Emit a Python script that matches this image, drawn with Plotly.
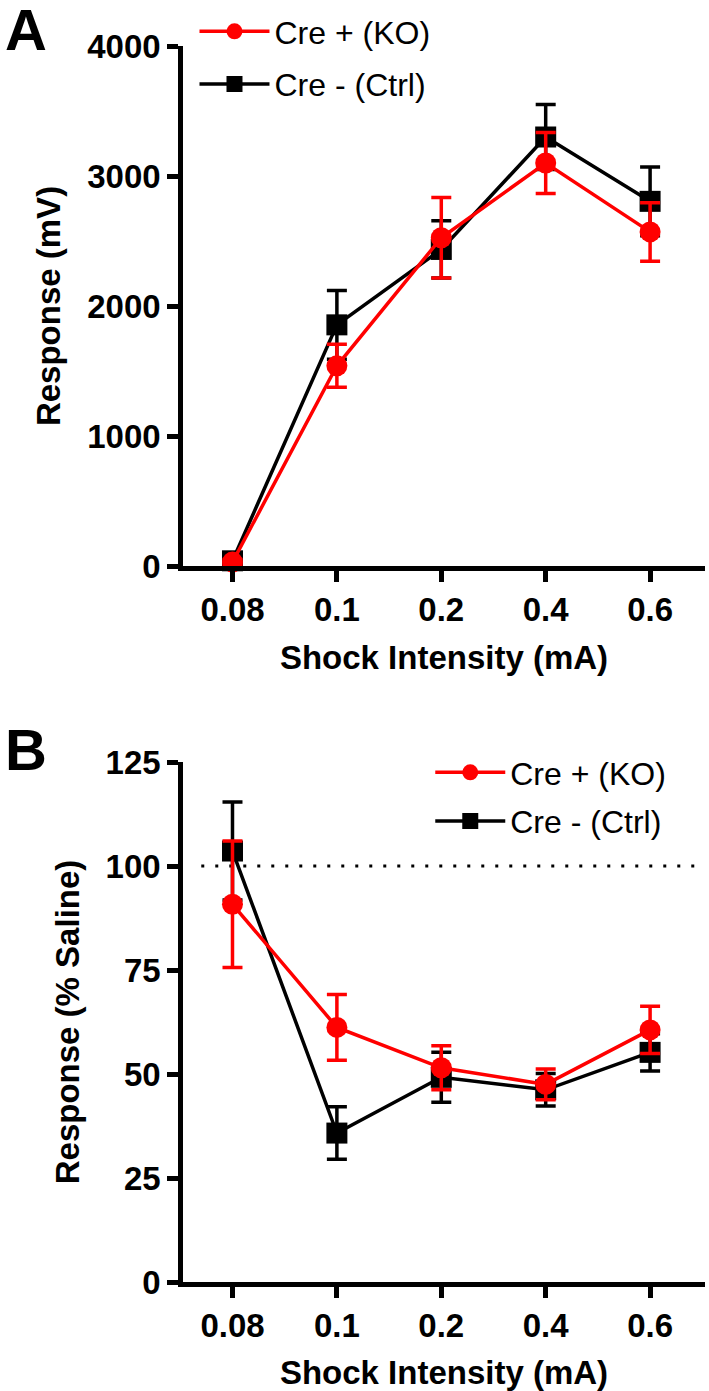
import plotly.graph_objects as go

# ---------------- data ----------------
categories = ["0.08", "0.1", "0.2", "0.4", "0.6"]

# Panel A: Response (mV)
ko_mv_mean = [30, 1540, 2525, 3100, 2570]
ko_mv_sem = [20, 165, 310, 235, 225]
ctrl_mv_mean = [40, 1855, 2435, 3300, 2805]
ctrl_mv_sem = [20, 265, 220, 250, 265]

# Panel B: Response (% Saline)
ko_pct_mean = [90.8, 61.2, 51.5, 47.5, 60.6]
ko_pct_sem = [15.2, 7.9, 5.3, 3.7, 5.7]
ctrl_pct_mean = [103.6, 35.8, 49.2, 46.2, 55.2]
ctrl_pct_sem = [11.8, 6.3, 6.0, 3.9, 4.5]

ko_name = "Cre + (KO)"
ctrl_name = "Cre - (Ctrl)"
ya_ticks = [0, 1000, 2000, 3000, 4000]
yb_ticks = [0, 25, 50, 75, 100, 125]
saline_ref = 100

# ---------------- layout constants ----------------
W, H = 709, 1391
L, R = 182.5, 4
PW = W - L - R
FONT = "Liberation Sans, Arial, Helvetica, sans-serif"
RED = "#FF0000"
BLACK = "#000000"


def px_x(px):
    return (px - L) / PW


def px_y(py):
    return 1 - py / H


fig = go.Figure()


def add_series(xa, ya, mean, sem, name, color, symbol, legend, rank):
    fig.add_trace(go.Scatter(
        x=categories, y=mean, name=name, xaxis=xa, yaxis=ya,
        mode="lines+markers",
        line=dict(color=color, width=3.5),
        marker=dict(color=color, size=21, symbol=symbol),
        error_y=dict(type="data", array=sem, color=color, thickness=3.5, width=10),
        cliponaxis=False, legend=legend, legendrank=rank, legendgroup=name + legend,
    ))


# black first so red draws on top
add_series("x", "y", ctrl_mv_mean, ctrl_mv_sem, ctrl_name, BLACK, "square", "legend", 2)
add_series("x", "y", ko_mv_mean, ko_mv_sem, ko_name, RED, "circle", "legend", 1)
add_series("x2", "y2", ctrl_pct_mean, ctrl_pct_sem, ctrl_name, BLACK, "square", "legend2", 2)
add_series("x2", "y2", ko_pct_mean, ko_pct_sem, ko_name, RED, "circle", "legend2", 1)

tickfont = dict(family=FONT, size=33, color=BLACK, weight="bold")
titlefont = dict(family=FONT, size=33, color=BLACK, weight="bold")

xcommon = dict(
    type="category", categoryorder="array", categoryarray=categories,
    range=[-0.474, 4.526], showline=True, linecolor=BLACK, linewidth=4.5,
    ticks="outside", ticklen=11, tickwidth=4.5, tickcolor=BLACK,
    tickfont=tickfont, showgrid=False, zeroline=False, automargin=False,
    fixedrange=True,
)
ycommon = dict(
    showline=True, linecolor=BLACK, linewidth=4.5,
    ticks="outside", ticklen=11, tickwidth=4.5, tickcolor=BLACK,
    tickfont=tickfont, showgrid=False, zeroline=False, automargin=False,
    fixedrange=True,
)

domA = [px_y(566), px_y(46)]
domB = [px_y(1282), px_y(762)]

legfont = dict(family=FONT, size=32, color=BLACK)

fig.update_layout(
    width=W, height=H,
    margin=dict(l=L, r=R, t=0, b=0, pad=0),
    paper_bgcolor="white", plot_bgcolor="white",
    font=dict(family=FONT, color=BLACK),
    showlegend=True,
    xaxis=dict(xcommon, anchor="y", domain=[0, 1],
               title=dict(text="Shock Intensity (mA)", font=titlefont, standoff=20)),
    yaxis=dict(ycommon, anchor="x", domain=domA, range=[0, 4000], tickvals=ya_ticks,
               title=dict(text="Response (mV)", font=titlefont, standoff=18)),
    xaxis2=dict(xcommon, anchor="y2", domain=[0, 1],
                title=dict(text="Shock Intensity (mA)", font=titlefont, standoff=20)),
    yaxis2=dict(ycommon, anchor="x2", domain=domB, range=[0, 125], tickvals=yb_ticks,
                title=dict(text="Response (% Saline)", font=titlefont, standoff=18)),
    legend=dict(x=px_x(194), y=px_y(4), xanchor="left", yanchor="top",
                xref="paper", yref="paper", bgcolor="rgba(0,0,0,0)",
                font=legfont, itemwidth=70, tracegroupgap=8),
    legend2=dict(x=px_x(430), y=px_y(745), xanchor="left", yanchor="top",
                 xref="paper", yref="paper", bgcolor="rgba(0,0,0,0)",
                 font=legfont, itemwidth=70, tracegroupgap=4),
    shapes=[dict(type="line", xref="x2 domain", yref="y2",
                 x0=0.035, x1=1.0, y0=saline_ref, y1=saline_ref,
                 line=dict(color=BLACK, width=3, dash="3px,11px"), layer="below")],
    annotations=[
        dict(text="A", x=px_x(25), y=px_y(29), xref="paper", yref="paper",
             showarrow=False, xanchor="center", yanchor="middle",
             font=dict(family=FONT, size=58, color=BLACK, weight="bold")),
        dict(text="B", x=px_x(25), y=px_y(749), xref="paper", yref="paper",
             showarrow=False, xanchor="center", yanchor="middle",
             font=dict(family=FONT, size=58, color=BLACK, weight="bold")),
    ],
)

# remove the browser's default 8px body margin so the chart sits at (0,0)
fig.write_html("out.html",
               config={"displayModeBar": False, "staticPlot": False},
               post_script="document.body.style.margin='0';document.body.style.padding='0';")
